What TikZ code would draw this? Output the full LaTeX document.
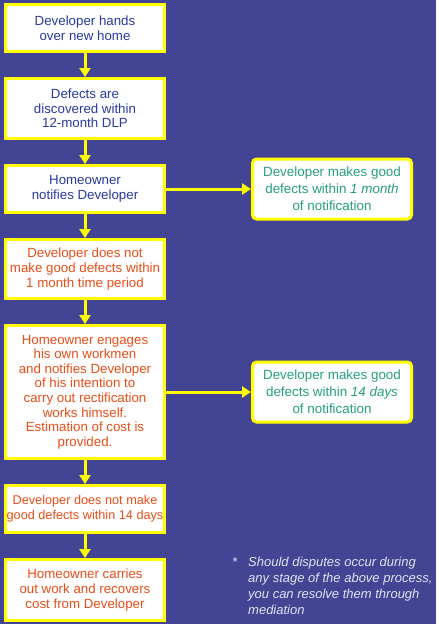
\documentclass[tikz,border=0pt]{standalone}
\usepackage{fontspec}
\setmainfont{Liberation Sans}
\usetikzlibrary{positioning,arrows.meta}
\definecolor{bgblue}{RGB}{68,68,148}
\definecolor{stepblue}{RGB}{40,58,160}
\definecolor{steporange}{RGB}{232,78,24}
\definecolor{goodgreen}{RGB}{38,158,128}
\definecolor{notegrey}{RGB}{226,226,242}
\definecolor{lineyellow}{RGB}{255,255,0}

\begin{document}
\begin{tikzpicture}[x=1pt, y=1pt,
      stepbox/.style={draw=lineyellow, fill=white, line width=3pt, minimum width=159pt,
         inner xsep=1pt, inner ysep=2pt, align=center, font=\fontsize{13.3}{14.6}\selectfont},
      bluebox/.style={stepbox, text=stepblue},
      redbox/.style={stepbox, text=steporange},
      goodbox/.style={stepbox, rounded corners=4pt, minimum height=60pt, text=goodgreen,
         font=\fontsize{13.4}{17}\selectfont},
      flow/.style={draw=lineyellow, line width=3pt, -{Triangle[width=11pt,length=9pt]}},
      note/.style={text=notegrey, inner sep=0pt, font=\fontsize{13}{16}\selectfont\itshape},
   ]
      \fill[bgblue] (0,0) rectangle (436,-624);
      \node[bluebox, minimum height=47pt] (hand) at (85,-28) {Developer hands\\over new home};
      \node[bluebox, minimum height=60pt, below=24pt of hand] (found) {Defects are\\discovered within\\12-month DLP};
      \node[bluebox, minimum height=47pt, below=24pt of found] (notify) {Homeowner\\notifies Developer};
      \node[redbox, minimum height=59pt, below=24pt of notify] (late) {Developer does not\\make good defects within\\1 month time period};
      \node[redbox, minimum height=133pt, below=24pt of late] (engage) {Homeowner engages\\his own workmen\\and notifies Developer\\of his intention to\\carry out rectification\\works himself.\\Estimation of cost is\\provided.};
      \node[redbox, minimum height=47pt, below=24pt of engage, font=\fontsize{12.7}{14.6}\selectfont] (later) {Developer does not make\\good defects within 14 days};
      \node[redbox, minimum height=61pt, below=24pt of later] (recover) {Homeowner carries\\out work and recovers\\cost from Developer};
      \node[goodbox, right=85pt of notify] (month) {Developer makes good\\defects within \textit{1 month}\\of notification};
      \node[goodbox, right=85pt of engage] (days) {Developer makes good\\defects within \textit{14 days}\\of notification};
      \node[note, anchor=north west] (dispute) at (232,-557) {\makebox[16pt][l]{*}\parbox[t]{190pt}{\raggedright
         Should disputes occur during\\any stage of the above process,\\you can resolve them through\\mediation}};

      \draw[flow] (hand) -- (found);
      \draw[flow] (found) -- (notify);
      \draw[flow] (notify) -- (late);
      \draw[flow] (late) -- (engage);
      \draw[flow] (engage) -- (later);
      \draw[flow] (later) -- (recover);
      \draw[flow] (notify) -- (month);
      \draw[flow] (engage) -- (days);
\end{tikzpicture}
\end{document}
